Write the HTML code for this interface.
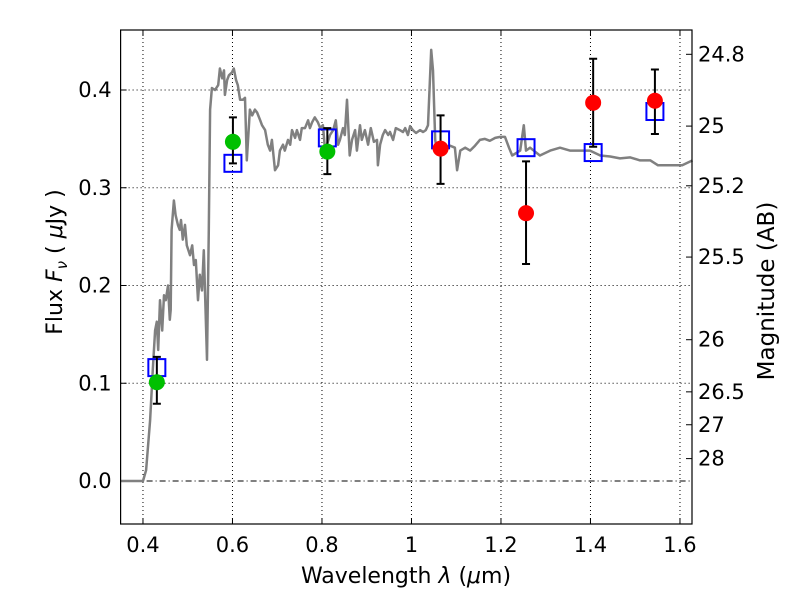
<!DOCTYPE html>
<html><head><meta charset="utf-8"><style>
body{margin:0;background:#fff}
svg text{font-family:"DejaVu Sans","Liberation Sans",sans-serif;fill:#000}
</style></head><body>
<svg id="c" width="800" height="600"></svg>
<script>
const specLam=[0.349,0.400,0.407,0.416,0.422,0.427,0.431,0.434,0.438,0.443,0.447,0.451,0.456,0.460,0.462,0.464,0.469,0.473,0.478,0.482,0.485,0.489,0.494,0.498,0.505,0.510,0.514,0.518,0.523,0.527,0.532,0.536,0.543,0.547,0.550,0.554,0.561,0.568,0.572,0.577,0.581,0.583,0.588,0.592,0.599,0.603,0.608,0.612,0.617,0.623,0.628,0.632,0.639,0.644,0.650,0.655,0.662,0.666,0.673,0.679,0.684,0.688,0.695,0.702,0.706,0.713,0.717,0.724,0.729,0.733,0.740,0.744,0.751,0.755,0.762,0.769,0.773,0.778,0.784,0.791,0.796,0.802,0.807,0.811,0.818,0.825,0.831,0.836,0.840,0.847,0.851,0.856,0.862,0.867,0.874,0.878,0.885,0.889,0.896,0.903,0.909,0.916,0.923,0.925,0.930,0.936,0.941,0.948,0.952,0.959,0.965,0.974,0.981,0.986,0.992,0.997,1.003,1.010,1.019,1.026,1.032,1.037,1.044,1.048,1.053,1.057,1.064,1.075,1.086,1.097,1.102,1.109,1.120,1.131,1.142,1.153,1.164,1.175,1.187,1.198,1.209,1.218,1.225,1.243,1.251,1.256,1.265,1.287,1.310,1.332,1.354,1.377,1.399,1.422,1.444,1.466,1.489,1.511,1.534,1.551,1.578,1.605,1.628];
const specFlux=[0,0,0.011,0.062,0.114,0.154,0.163,0.134,0.185,0.154,0.190,0.185,0.200,0.165,0.175,0.257,0.287,0.272,0.262,0.257,0.267,0.247,0.262,0.241,0.231,0.241,0.221,0.226,0.185,0.211,0.195,0.236,0.124,0.257,0.380,0.402,0.400,0.405,0.422,0.412,0.420,0.395,0.410,0.415,0.418,0.422,0.410,0.405,0.390,0.390,0.392,0.328,0.380,0.374,0.380,0.377,0.369,0.364,0.359,0.344,0.338,0.349,0.318,0.323,0.338,0.344,0.338,0.349,0.344,0.359,0.351,0.359,0.349,0.361,0.361,0.369,0.361,0.367,0.372,0.367,0.361,0.364,0.338,0.344,0.354,0.359,0.369,0.344,0.349,0.361,0.354,0.390,0.333,0.349,0.359,0.338,0.364,0.349,0.359,0.344,0.361,0.347,0.349,0.323,0.344,0.354,0.359,0.354,0.357,0.349,0.361,0.359,0.357,0.361,0.354,0.363,0.359,0.356,0.359,0.357,0.359,0.364,0.441,0.420,0.349,0.338,0.341,0.341,0.343,0.341,0.318,0.338,0.341,0.338,0.343,0.349,0.350,0.348,0.351,0.352,0.352,0.341,0.333,0.338,0.364,0.338,0.341,0.333,0.338,0.341,0.338,0.338,0.338,0.333,0.332,0.330,0.331,0.328,0.328,0.323,0.323,0.323,0.328];
const greenLam=[0.431,0.601,0.812];
const greenFlux=[0.101,0.347,0.337];
const greenLo=[0.079,0.325,0.314];
const greenHi=[0.127,0.372,0.361];
const redLam=[1.065,1.256,1.406,1.544];
const redFlux=[0.340,0.274,0.387,0.389];
const redLo=[0.304,0.222,0.342,0.355];
const redHi=[0.374,0.327,0.432,0.421];
const modelLam=[0.431,0.601,0.812,1.065,1.256,1.406,1.544];
const modelFlux=[0.116,0.325,0.351,0.349,0.341,0.336,0.378];
const xTicks=[0.4,0.6,0.8,1,1.2,1.4,1.6];
const xTickLabels=["0.4","0.6","0.8","1","1.2","1.4","1.6"];
const yTicks=[0,0.1,0.2,0.3,0.4];
const yTickLabels=["0.0","0.1","0.2","0.3","0.4"];
const magTicks=[24.8,25,25.2,25.5,26,26.5,27,28];
const magTickLabels=["24.8","25","25.2","25.5","26","26.5","27","28"];

const L=120.6,R=692,T=30,B=524;
const X=v=>L+(v-0.35)*447.5;
const Y=v=>481-v*977.5;
const svg=document.getElementById('c');
const NS='http://www.w3.org/2000/svg';
function mk(tag,at,parent){const e=document.createElementNS(NS,tag);for(const k in at)e.setAttribute(k,at[k]);(parent||svg).appendChild(e);return e;}

xTicks.forEach((t,i)=>{
  const g=mk('line',{x1:X(t),x2:X(t),y1:T,y2:B,stroke:'#000','stroke-width':1,'stroke-dasharray':'1,3'});
  
  
  const tk=mk('line',{x1:X(t),x2:X(t),y1:B,y2:B-6,stroke:'#000'});
  
  
  const tk2=mk('line',{x1:X(t),x2:X(t),y1:T,y2:T+6,stroke:'#000'});
  
  
  const tx=mk('text',{x:X(t),y:B+28,'text-anchor':'middle','font-size':21});
  tx.textContent=xTickLabels[i];
  
  
});
yTicks.forEach((t,i)=>{
  const g=mk('line',{x1:L,x2:R,y1:Y(t),y2:Y(t),stroke:'#000','stroke-width':1,'stroke-dasharray':t===0?'6,3,1,3':'1,3'});
  
  
  const tk=mk('line',{x1:L,x2:L+6,y1:Y(t),y2:Y(t),stroke:'#000'});
  
  
  const tx=mk('text',{x:L-9,y:Y(t)+7,'text-anchor':'end','font-size':21});
  tx.textContent=yTickLabels[i];
  
  
});
magTicks.forEach((m,i)=>{
  const f=Math.pow(10,(23.9-m)/2.5);
  const tk=mk('line',{x1:R-6,x2:R,y1:Y(f),y2:Y(f),stroke:'#000'});
  
  
  const tx=mk('text',{x:R+6,y:Y(f)+7,'font-size':21});
  tx.textContent=magTickLabels[i];
  
  
});

let d='';specLam.forEach((l,i)=>{d+=(i?'L':'M')+X(l).toFixed(1)+','+Y(specFlux[i]).toFixed(1);});
const sp=mk('path',{d:d,fill:'none',stroke:'#808080','stroke-width':2.5,'stroke-linejoin':'round'});



modelLam.forEach((l,i)=>{
  const s=mk('rect',{x:X(l)-8.5,y:Y(modelFlux[i])-8.5,width:17,height:17,fill:'none',stroke:'#0000ff','stroke-width':2});
  
  
});
function pts(lam,fl,lo,hi,col,name){
  lam.forEach((l,i)=>{
    const x=X(l);
    const e=mk('path',{d:`M${x},${Y(lo[i])}V${Y(hi[i])}M${x-4},${Y(lo[i])}H${x+4}M${x-4},${Y(hi[i])}H${x+4}`,stroke:'#000','stroke-width':2,fill:'none'});
    
    
    const c=mk('circle',{cx:x,cy:Y(fl[i]),r:8,fill:col});
    
    
  });
}
pts(greenLam,greenFlux,greenLo,greenHi,'#00c000','green');
pts(redLam,redFlux,redLo,redHi,'#ff0000','red');

const fr=mk('rect',{x:L,y:T,width:R-L,height:B-T,fill:'none',stroke:'#000','stroke-width':1.2});


</script>
<svg width="800" height="600" style="position:absolute;left:0;top:0">
<text x="406" y="583" text-anchor="middle" font-size="22">Wavelength  <tspan font-style="italic">λ</tspan> (<tspan font-style="italic">μ</tspan>m)</text>
<text transform="translate(62,262) rotate(-90)" text-anchor="middle" font-size="22">Flux  <tspan font-style="italic">F</tspan><tspan font-style="italic" font-size="15" dy="5">ν</tspan><tspan dy="-5">  (  </tspan><tspan font-style="italic">μ</tspan>Jy )</text>
<text transform="translate(774,291) rotate(-90)" text-anchor="middle" font-size="23">Magnitude (AB)</text>
</svg>
</body></html>
